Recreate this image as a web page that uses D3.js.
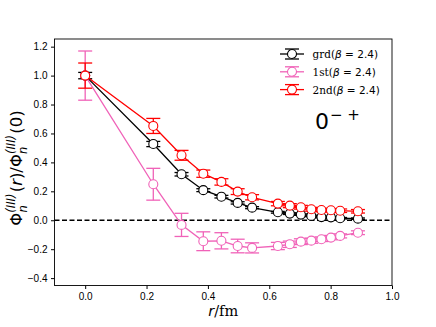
<!DOCTYPE html>
<html>
<head>
<meta charset="utf-8">
<script src="https://cdn.jsdelivr.net/npm/d3@7"></script>
<style>
  body { margin: 0; background: #fff; }
  svg { font-family: "DejaVu Sans", sans-serif; }
  .tick text { font-size: 10px; fill: #000; }
</style>
</head>
<body>
<div id="chart"></div>
<script>
// distances r (fm)
var rValues = [0, 0.222, 0.314, 0.385, 0.444, 0.497, 0.544, 0.628, 0.667, 0.703, 0.737, 0.770, 0.801, 0.831, 0.889];

var grdValues = [1.0, 0.527, 0.318, 0.208, 0.163, 0.120, 0.087, 0.055, 0.046, 0.039, 0.030, 0.022, 0.020, 0.014, 0.011];
var grdErrors = [0.022, 0.018, 0.012, 0.010, 0.009, 0.008, 0.007, 0.006, 0.006, 0.005, 0.005, 0.005, 0.005, 0.005, 0.005];

var firstValues = [1.0, 0.249, -0.032, -0.145, -0.142, -0.178, -0.191, -0.178, -0.166, -0.148, -0.141, -0.131, -0.120, -0.108, -0.086];
var firstErrors = [0.17, 0.11, 0.08, 0.065, 0.056, 0.047, 0.035, 0.025, 0.022, 0.020, 0.018, 0.016, 0.015, 0.014, 0.013];

var secondValues = [1.0, 0.652, 0.449, 0.322, 0.265, 0.198, 0.159, 0.115, 0.101, 0.090, 0.076, 0.071, 0.069, 0.066, 0.062];
var secondErrors = [0.087, 0.052, 0.034, 0.025, 0.022, 0.020, 0.018, 0.015, 0.014, 0.013, 0.013, 0.012, 0.012, 0.012, 0.012];

var xTicks = [0.0, 0.2, 0.4, 0.6, 0.8, 1.0];
var yTicks = [-0.4, -0.2, 0.0, 0.2, 0.4, 0.6, 0.8, 1.0, 1.2];

var seriesNames = ["grd", "1st", "2nd"];
var seriesColors = ["#000000", "#f062b8", "#ff0000"];

var width = 436, height = 327;
var margin = { top: 39, right: 44, bottom: 41.5, left: 54.5 };
var plotW = width - margin.left - margin.right,
    plotH = height - margin.top - margin.bottom;

var svg = d3.select("#chart").append("svg")
  .attr("width", width)
  .attr("height", height);

var g = svg.append("g")
  .attr("transform", "translate(" + margin.left + "," + margin.top + ")");

var x = d3.scaleLinear().domain([-0.1, 1.0]).range([0, plotW]);
var y = d3.scaleLinear().domain([-0.451, 1.253]).range([plotH, 0]);

// zero line
g.append("line")
  .attr("x1", 0).attr("x2", plotW)
  .attr("y1", y(0)).attr("y2", y(0))
  .attr("stroke", "#000")
  .attr("stroke-width", 1.3)
  .attr("stroke-dasharray", "5,2.5");

var series = [
  { values: grdValues, errors: grdErrors },
  { values: firstValues, errors: firstErrors },
  { values: secondValues, errors: secondErrors }
];

var capHalf = 7, radius = 4.5;

series.forEach(function(s, k) {
  var color = seriesColors[k];
  var pts = rValues.map(function(r, i) { return { r: r, v: s.values[i], e: s.errors[i] }; });
  var sg = g.append("g");

  var line = d3.line()
    .x(function(d) { return x(d.r); })
    .y(function(d) { return y(d.v); });

  sg.append("path")
    .datum(pts)
    .attr("d", line)
    .attr("fill", "none")
    .attr("stroke", color)
    .attr("stroke-width", 1.3);

  var bars = sg.selectAll(".bar").data(pts).enter().append("g");
  bars.append("line")
    .attr("x1", function(d) { return x(d.r); })
    .attr("x2", function(d) { return x(d.r); })
    .attr("y1", function(d) { return y(d.v - d.e); })
    .attr("y2", function(d) { return y(d.v + d.e); })
    .attr("stroke", color).attr("stroke-width", 1.3);
  [-1, 1].forEach(function(sign) {
    bars.append("line")
      .attr("x1", function(d) { return x(d.r) - capHalf; })
      .attr("x2", function(d) { return x(d.r) + capHalf; })
      .attr("y1", function(d) { return y(d.v + sign * d.e); })
      .attr("y2", function(d) { return y(d.v + sign * d.e); })
      .attr("stroke", color).attr("stroke-width", 1.3);
  });

  sg.selectAll("circle").data(pts).enter().append("circle")
    .attr("cx", function(d) { return x(d.r); })
    .attr("cy", function(d) { return y(d.v); })
    .attr("r", radius)
    .attr("fill", "#fff")
    .attr("stroke", color)
    .attr("stroke-width", 1.1);
});

// axes
var xAxis = g.append("g")
  .attr("transform", "translate(0," + plotH + ")")
  .call(d3.axisBottom(x).tickValues(xTicks).tickFormat(d3.format(".1f")).tickSizeOuter(0).tickSize(3.5).tickPadding(3.5));
var yAxis = g.append("g")
  .call(d3.axisLeft(y).tickValues(yTicks).tickFormat(function(d) { return d3.format(".1f")(d).replace("-", "\u2212"); }).tickSizeOuter(0).tickSize(3.5).tickPadding(3.5));
xAxis.select(".domain").remove();
yAxis.select(".domain").remove();

g.append("rect")
  .attr("width", plotW).attr("height", plotH)
  .attr("fill", "none").attr("stroke", "#000").attr("stroke-width", 0.9);

// legend
var legend = g.append("g").attr("transform", "translate(" + (plotW - 112) + ",15)");
seriesNames.forEach(function(name, k) {
  var color = seriesColors[k];
  var ly = k * 17.8;
  var lg = legend.append("g").attr("transform", "translate(0," + ly + ")");
  lg.append("line").attr("x1", 0).attr("x2", 24).attr("y1", 0).attr("y2", 0)
    .attr("stroke", color).attr("stroke-width", 1.3);
  lg.append("line").attr("x1", 12).attr("x2", 12).attr("y1", -5).attr("y2", 5)
    .attr("stroke", color).attr("stroke-width", 1.3);
  [-5, 5].forEach(function(dy) {
    lg.append("line").attr("x1", 5).attr("x2", 19).attr("y1", dy).attr("y2", dy)
      .attr("stroke", color).attr("stroke-width", 1.3);
  });
  lg.append("circle").attr("cx", 12).attr("cy", 0).attr("r", radius)
    .attr("fill", "#fff").attr("stroke", color).attr("stroke-width", 1.1);
  var t = lg.append("text").attr("x", 32.5).attr("y", 4).attr("font-size", 10.5)
    .attr("font-family", "DejaVu Serif, serif");
  t.append("tspan").text(name + "(");
  t.append("tspan").attr("font-style", "italic").attr("font-family", "DejaVu Sans").text("\u03b2");
  t.append("tspan").attr("font-family", "DejaVu Sans").text(" = 2.4)");
});

// 0^-+ label
var ql = svg.append("text").attr("x", 315).attr("y", 128.5).attr("font-size", 22);
ql.append("tspan").text("0");
ql.append("tspan").attr("font-size", 15).attr("dy", -8.5).attr("dx", 1).text("\u2212 +");

// x label
var xl = svg.append("text")
  .attr("x", margin.left + x(0.45)).attr("y", 316)
  .attr("text-anchor", "middle").attr("font-size", 14.5)
  .attr("font-family", "DejaVu Serif, serif");
xl.append("tspan").attr("font-style", "italic").attr("font-family", "DejaVu Sans").text("r");
xl.append("tspan").text("/fm");

// y label
var yl = svg.append("text")
  .attr("transform", "translate(22,168) rotate(-90)")
  .attr("text-anchor", "middle").attr("font-size", 16.5);
yl.append("tspan").text("\u03a6");
yl.append("tspan").attr("font-size", 11.5).attr("dy", -7).attr("font-style", "italic").text("(III)");
yl.append("tspan").attr("font-size", 11.5).attr("dx", -19).attr("dy", 11.5).attr("font-style", "italic").text("n");
yl.append("tspan").attr("dx", 13).attr("dy", -4.5).text("(");
yl.append("tspan").attr("font-style", "italic").text("r");
yl.append("tspan").text(")/\u03a6");
yl.append("tspan").attr("font-size", 11.5).attr("dy", -7).attr("font-style", "italic").text("(III)");
yl.append("tspan").attr("font-size", 11.5).attr("dx", -19).attr("dy", 11.5).attr("font-style", "italic").text("n");
yl.append("tspan").attr("dx", 13).attr("dy", -4.5).text("(0)");
</script>
</body>
</html>
